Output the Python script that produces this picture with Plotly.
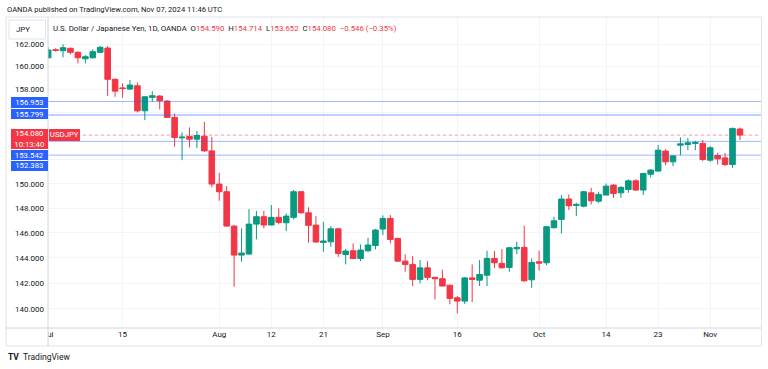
import pandas as pd
import plotly.graph_objects as go

# ---------------- data ----------------
dates = [d.strftime("%Y-%m-%d") for d in pd.bdate_range("2024-07-01", "2024-11-07")]

opens = [160.78, 161.49, 161.40, 161.62, 161.26, 160.69, 160.78, 161.26, 161.64, 158.88,
         158.13, 158.03, 158.32, 156.15, 157.31, 157.42, 156.99, 155.58, 153.84, 153.96,
         153.73, 153.98, 152.74, 149.97, 149.34, 146.54, 144.22, 144.30, 146.70, 147.30,
         146.63, 147.25, 146.81, 147.25, 149.34, 147.62, 146.62, 145.23, 145.28, 146.32,
         144.27, 144.56, 143.95, 144.56, 144.98, 146.30, 147.16, 145.55, 143.74, 143.48,
         142.30, 143.21, 142.46, 142.35, 141.85, 140.87, 140.61, 142.42, 142.24, 142.63,
         143.95, 143.56, 143.24, 144.72, 144.83, 142.27, 143.69, 143.61, 146.41, 147.08,
         148.74, 148.22, 148.16, 149.25, 148.57, 149.07, 149.89, 149.25, 149.53, 150.24,
         149.48, 150.79, 151.05, 152.72, 151.82, 153.22, 153.28, 153.37, 153.37, 151.96,
         152.35, 152.15, 151.60, 154.590]
highs = [161.72, 161.62, 161.97, 161.67, 161.35, 161.02, 161.53, 161.82, 161.82, 158.97,
         158.53, 158.82, 158.61, 157.42, 157.85, 157.51, 157.07, 155.92, 154.30, 154.73,
         154.41, 155.20, 153.92, 150.90, 149.80, 146.62, 146.36, 147.92, 147.76, 147.78,
         148.25, 147.98, 147.57, 149.48, 149.40, 148.06, 147.35, 146.89, 146.54, 146.40,
         144.70, 145.15, 145.07, 145.60, 146.32, 147.41, 147.43, 145.60, 144.27, 144.14,
         143.82, 143.74, 142.50, 143.07, 141.85, 141.00, 142.50, 143.48, 143.82, 144.56,
         144.54, 144.70, 144.85, 145.28, 146.57, 143.95, 144.56, 146.57, 147.30, 149.07,
         149.12, 148.43, 149.42, 149.66, 149.34, 150.02, 149.94, 149.80, 150.36, 150.36,
         150.90, 151.21, 153.23, 152.89, 152.38, 153.87, 153.84, 153.59, 153.65, 153.14,
         152.57, 152.57, 154.72, 154.714]
lows = [160.72, 161.32, 160.82, 161.08, 160.28, 160.28, 160.71, 161.20, 157.42, 157.36,
        157.27, 157.94, 156.01, 155.35, 156.93, 156.27, 155.55, 153.08, 151.96, 153.03,
        152.97, 152.66, 149.70, 148.60, 146.49, 141.72, 143.69, 144.25, 145.47, 146.36,
        146.60, 146.68, 146.14, 147.08, 147.55, 145.20, 145.20, 144.48, 144.88, 144.08,
        143.48, 143.92, 143.74, 144.48, 144.67, 145.82, 145.15, 143.69, 142.90, 141.78,
        141.98, 142.24, 140.74, 141.76, 140.36, 139.66, 140.38, 140.53, 141.78, 141.78,
        143.21, 143.17, 142.90, 144.30, 142.11, 141.64, 142.98, 143.43, 146.36, 145.95,
        147.84, 147.35, 148.06, 148.30, 148.43, 149.05, 148.84, 148.84, 149.25, 149.42,
        149.07, 150.52, 150.99, 151.54, 151.46, 152.38, 152.80, 152.80, 151.88, 151.82,
        151.60, 151.46, 151.32, 153.652]
closes = [161.47, 161.44, 161.67, 161.26, 160.78, 160.87, 161.32, 161.71, 158.88, 157.85,
          158.08, 158.38, 156.15, 157.36, 157.45, 157.01, 155.58, 153.87, 153.90, 153.73,
          154.04, 152.74, 149.97, 149.34, 146.54, 144.22, 144.38, 146.70, 147.30, 146.63,
          147.25, 146.84, 147.35, 149.34, 147.62, 146.60, 145.26, 145.34, 146.32, 144.35,
          144.54, 143.95, 144.62, 145.02, 146.22, 147.16, 145.47, 143.74, 143.48, 142.30,
          143.21, 142.46, 142.35, 141.78, 140.82, 140.61, 142.42, 142.30, 142.69, 143.95,
          143.61, 143.21, 144.80, 144.83, 142.19, 143.64, 143.58, 146.49, 146.97, 148.74,
          148.19, 148.30, 149.34, 148.60, 149.12, 149.80, 149.20, 149.70, 150.24, 149.48,
          150.85, 151.13, 152.80, 151.82, 152.32, 153.33, 153.42, 153.45, 152.02, 153.00,
          152.07, 151.60, 154.64, 154.080]

tick_dates = ["2024-07-01", "2024-07-15", "2024-08-01", "2024-08-12", "2024-08-21", "2024-09-02",
              "2024-09-16", "2024-10-01", "2024-10-14", "2024-10-23", "2024-11-01"]
tick_labels = ["Jul", "15", "Aug", "12", "21", "Sep", "16", "Oct", "14", "23", "Nov"]

price_ticks = [140, 142, 144, 146, 148, 150, 152, 154, 156, 158, 160, 162]
hidden_price_ticks = [152, 154, 156]   # covered by the price labels in the original
price_tick_labels = ["" if v in hidden_price_ticks else f"{v:.3f}" for v in price_ticks]

blue_levels = [156.953, 155.799, 153.542, 152.383]
blue_widths = [1, 2, 1, 1]
last_price = 154.080

# ---------------- figure ----------------
W, H = 768, 369
L, R, T, B = 48, 761, 17, 328
GREEN, RED, BLUE, TXT = "#089981", "#f23645", "#2962ff", "#131722"
FONT = "Roboto"

def px(x):
    return (x - L) / (R - L)

def py(y):
    return (B - y) / (B - T)

idx = list(range(len(dates)))
fig = go.Figure()

for lvl, w in zip(blue_levels, blue_widths):
    fig.add_trace(go.Scatter(x=[-5, 110], y=[lvl, lvl], mode="lines",
                             line=dict(color="rgba(41,98,255,0.45)" if w == 1 else "rgba(41,98,255,0.3)", width=w),
                             hoverinfo="skip", showlegend=False))
fig.add_trace(go.Scatter(x=[-5, 110], y=[last_price, last_price], mode="lines",
                         line=dict(color="rgba(242,54,69,0.45)", width=1, dash="dot"),
                         hoverinfo="skip", showlegend=False))

fig.add_trace(go.Candlestick(
    x=idx, open=opens, high=highs, low=lows, close=closes,
    increasing=dict(line=dict(color=GREEN, width=1), fillcolor=GREEN),
    decreasing=dict(line=dict(color=RED, width=1), fillcolor=RED),
    whiskerwidth=0, hoverinfo="skip", showlegend=False))

tickvals = [dates.index(d) for d in tick_dates]

fig.update_layout(
    width=W, height=H,
    margin=dict(l=L, r=W - R, t=T, b=H - B, pad=0),
    paper_bgcolor="white", plot_bgcolor="white",
    font=dict(family=FONT, size=8, color=TXT),
    boxgap=0.25, boxgroupgap=0.0,
    showlegend=False,
    xaxis=dict(type="linear", range=[-0.02, 95.83], tickmode="array", tickvals=tickvals,
               ticktext=tick_labels, showgrid=True, gridcolor="#f3f4f7", zeroline=False,
               showline=False, ticks="", tickfont=dict(size=8, color=TXT),
               rangeslider=dict(visible=False), fixedrange=True),
    yaxis=dict(type="log", range=[2.14158, 2.21598], autorange=False, side="left",
               tickmode="array", tickvals=price_ticks, ticktext=price_tick_labels,
               showgrid=True, gridcolor="#f3f4f7", zeroline=False, showline=False,
               ticks="", tickfont=dict(size=8, color=TXT), ticklabelstandoff=3),
)

shapes = []
shapes.append(dict(type="rect", xref="paper", yref="paper", x0=px(7), x1=px(48.5), y0=py(345), y1=py(329),
                   fillcolor="white", line=dict(width=0), layer="above"))
shapes.append(dict(type="rect", xref="paper", yref="paper", x0=px(6), x1=px(761.5), y0=py(346), y1=py(17),
                   line=dict(color="#e0e3eb", width=1), layer="above"))
shapes.append(dict(type="line", xref="paper", yref="paper", x0=px(6), x1=px(761.5), y0=py(328), y1=py(328),
                   line=dict(color="#d1d4dc", width=1), layer="above"))
shapes.append(dict(type="line", xref="paper", yref="paper", x0=px(48), x1=px(48), y0=py(346), y1=py(17),
                   line=dict(color="#d1d4dc", width=1), layer="above"))
shapes.append(dict(type="rect", xref="paper", yref="paper", x0=px(9), x1=px(45.5), y0=py(39), y1=py(20),
                   line=dict(color="#e0e3eb", width=1), fillcolor="white", layer="above"))
fig.update_layout(shapes=shapes)

ann = []
def note(text, x, y, xanchor="left", size=8, color=TXT, **kw):
    ann.append(dict(text=text, x=px(x), y=py(y), xref="paper", yref="paper", xanchor=xanchor,
                    yanchor="middle", showarrow=False, font=dict(family=FONT, size=size, color=color), **kw))

note("OANDA published on TradingView.com, Nov 07, 2024 11:46 UTC", 5, 9, size=7.6)
note("JPY", 14, 29.5, size=7.8)
r = lambda s: f"<span style='color:{RED}'>{s}</span>"
nb = "\u00a0"
title = ("U.S. Dollar / Japanese Yen, 1D, OANDA" + nb * 2 + "O" + r("154.590") + nb * 2 + "H" + r("154.714")
         + nb * 2 + "L" + r("153.652") + nb * 2 + "C" + r("154.080") + nb * 2 + r("\u22120.546 (\u22120.35%)"))
note(title, 51, 28.5, size=7.8)

def price_box(text, yc, h, color):
    ann.append(dict(text=text, x=px(47.7), y=py(yc), xref="paper", yref="paper", xanchor="right",
                    yanchor="middle", showarrow=False, width=34.7, height=h, align="center",
                    bgcolor=color, borderpad=1, borderwidth=0,
                    font=dict(family=FONT, size=7.8, color="white")))

price_box("156.953", 102, 8.6, BLUE)
price_box("155.799", 114.3, 8.0, BLUE)
price_box("154.080<br>10:13:40", 139.3, 18, RED)
price_box("153.542", 155, 8.0, BLUE)
price_box("152.383", 165.9, 7.8, BLUE)
ann.append(dict(text="USDJPY", x=px(49.3), y=py(135.2), xref="paper", yref="paper", xanchor="left",
                yanchor="middle", showarrow=False, width=28.7, height=9.7, align="center",
                bgcolor=RED, borderpad=1, borderwidth=0, font=dict(family=FONT, size=7.8, color="white")))

note("<b>TV</b>", 6, 357, size=8.5)
note("TradingView", 21, 357, size=8.5)
fig.update_layout(annotations=ann)

fig.write_html("out.html", config={"displayModeBar": False},
               post_script="document.body.style.margin='0';document.body.style.overflow='hidden';")
